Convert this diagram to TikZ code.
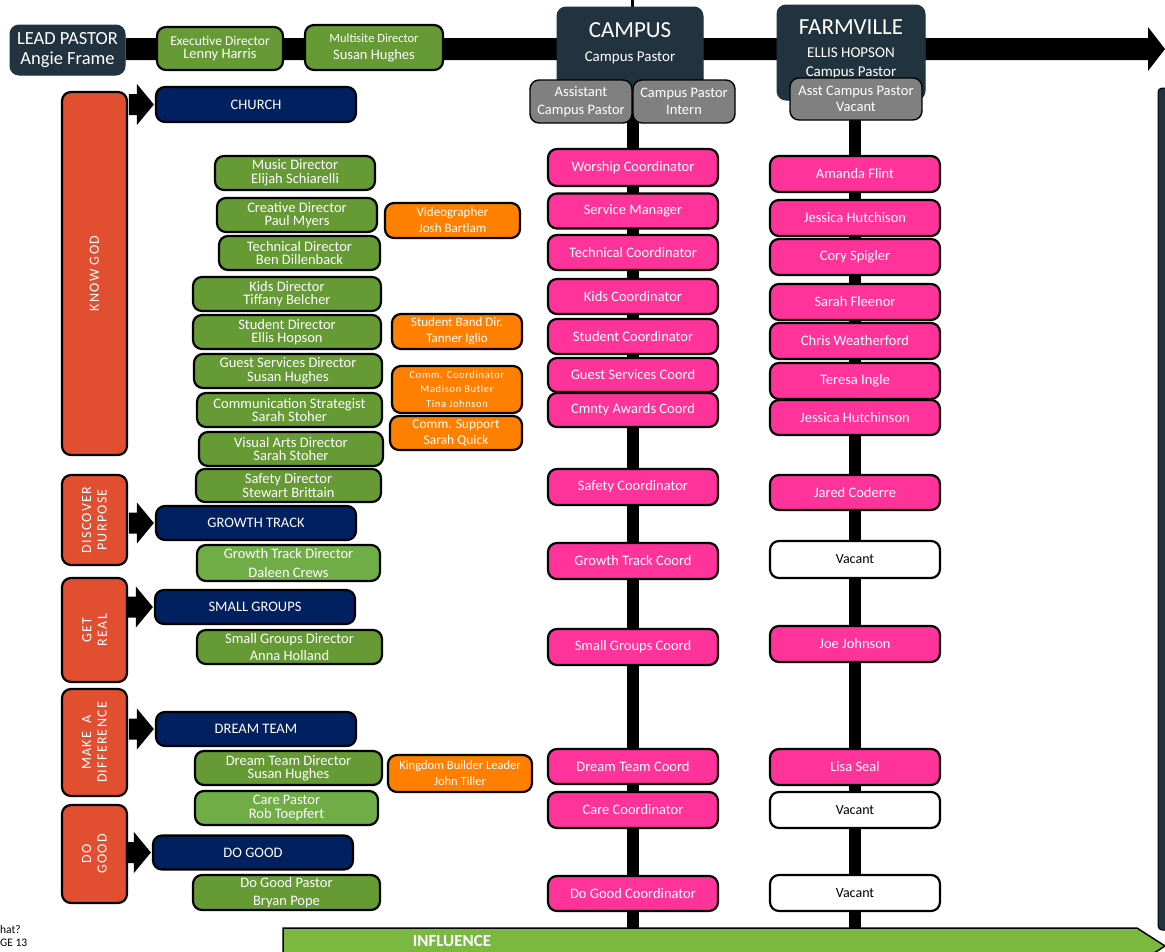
\documentclass[tikz,border=0pt]{standalone}
\usepackage{fontspec}
\setmainfont{Carlito}
\usetikzlibrary{calc,backgrounds}

\definecolor{slate}{RGB}{34,51,64}
\definecolor{navy}{RGB}{0,32,96}
\definecolor{leafdark}{RGB}{101,154,52}
\definecolor{leaflight}{RGB}{112,173,71}
\definecolor{tangerine}{RGB}{255,128,0}
\definecolor{hotpink}{RGB}{255,51,153}
\definecolor{brick}{RGB}{226,79,48}
\definecolor{steel}{RGB}{128,128,128}
\definecolor{lime}{RGB}{122,184,64}

\tikzset{
  box/.style={draw=black, line width=2.2pt, rounded corners=9pt, align=center, inner sep=0pt, text=white},
  leadbox/.style={box, draw=slate, line width=1pt, fill=slate},
  greybox/.style={box, line width=1.4pt, fill=steel, minimum width=102pt, minimum height=43pt, font=\fontsize{14.5}{17.5}\selectfont},
  goalbar/.style={box, fill=brick, rotate=90, minimum height=65pt, font=\fontsize{14}{15.5}\selectfont\addfontfeature{LetterSpace=9}},
  stepbox/.style={box, fill=navy, minimum width=200pt, minimum height=34pt, font=\fontsize{14.5}{16}\selectfont},
  dirbox/.style={box, fill=leafdark, minimum width=185pt, minimum height=34pt, font=\fontsize{14.5}{13.5}\selectfont},
  helpbox/.style={box, fill=tangerine, minimum width=130pt, minimum height=35pt, font=\fontsize{13}{16}\selectfont},
  coordbox/.style={box, fill=hotpink, minimum width=170pt, minimum height=35pt, font=\fontsize{14.5}{16}\selectfont},
  vacantbox/.style={coordbox, fill=white, text=black, font=\fontsize{14}{16}\selectfont},
  spine/.style={line width=12pt},
  pointer/.style={fill=black},
}

\begin{document}
\begin{tikzpicture}[x=1pt,y=-1pt]
	\useasboundingbox (0,0) rectangle (1165,951);

	% Top row
	\node[leadbox, minimum width=115pt, minimum height=50pt, font=\fontsize{18.5}{20}\selectfont] (lead) at (67.5,50) {LEAD PASTOR\\Angie Frame};
	\node[dirbox, minimum width=126pt, minimum height=43pt] (exec) at (220,48.5) {{\fontsize{13.5}{14}\selectfont Executive Director}\\Lenny Harris};
	\node[dirbox, minimum width=138pt, minimum height=45pt, font=\fontsize{14.5}{17}\selectfont] (multi) at (374,47.5) {{\fontsize{12.5}{14}\selectfont Multisite Director}\\Susan Hughes};

	\node[leadbox, minimum width=146pt, minimum height=88pt] (campus) at (630,51) {};
	\node[text=white, font=\fontsize{23}{24}\selectfont] (campusname) at (630,30) {CAMPUS};
	\node[text=white, font=\fontsize{15}{16}\selectfont] (campuspastor) at (630,58) {Campus Pastor};
	\node[greybox] (asst) at (581,101.5) {Assistant\\Campus Pastor};
	\node[greybox] (intern) at (684,101.5) {Campus Pastor\\Intern};

	\node[leadbox, minimum width=148pt, minimum height=95pt] (farm) at (851,52.5) {};
	\node[text=white, font=\fontsize{23}{24}\selectfont] (farmname) at (851,27) {FARMVILLE};
	\node[text=white, align=center, font=\fontsize{15}{19}\selectfont] (farmpastor) at (851,63) {ELLIS HOPSON\\Campus Pastor};
	\node[greybox, minimum width=132pt, minimum height=42pt, font=\fontsize{14.5}{16.5}\selectfont] (asstv) at (856,99) {Asst Campus Pastor\\Vacant};

	\node[leadbox, draw=black, line width=1pt, rotate=90, rounded corners=4pt, minimum width=842pt, minimum height=30pt] (sidebar) at (1173,509) {};
	\coordinate (pagetop) at (632,0);

	% Goal bars
	\node[goalbar, minimum width=363pt] (knowgod) at (94.5,273.5) {KNOW GOD};
	\node[goalbar, minimum width=90pt] (discover) at (94.5,520) {DISCOVER\\PURPOSE};
	\node[goalbar, minimum width=104pt] (getreal) at (94.5,630) {GET\\REAL};
	\node[goalbar, minimum width=107pt] (makediff) at (94.5,742.5) {MAKE\ \ A\\DIFFERENCE};
	\node[goalbar, minimum width=98pt] (goodbar) at (94.5,854) {DO\\GOOD};

	% Steps
	\node[stepbox, minimum height=35pt] (church) at (256,104.5) {CHURCH};
	\node[stepbox] (growth) at (256,523) {GROWTH TRACK};
	\node[stepbox] (groups) at (255,607) {SMALL GROUPS};
	\node[stepbox] (dream) at (256,729) {DREAM TEAM};
	\node[stepbox] (dogood) at (253,852.5) {DO GOOD};

	% Directors
	\node[dirbox, minimum width=160pt] (music) at (295,173) {Music Director\\Elijah Schiarelli};
	\node[dirbox, minimum width=160pt] (creative) at (297,215) {Creative Director\\Paul Myers};
	\node[dirbox, minimum width=161pt] (technical) at (299.5,253) {Technical Director\\Ben Dillenback};
	\node[dirbox, minimum width=188pt] (kids) at (287,294) {Kids Director\\Tiffany Belcher};
	\node[dirbox, minimum width=188pt] (student) at (287,332) {Student Director\\Ellis Hopson};
	\node[dirbox, minimum width=188pt] (guest) at (288,371) {Guest Services Director\\Susan Hughes};
	\node[dirbox] (commstrat) at (289.5,410) {Communication Strategist\\Sarah Stoher};
	\node[dirbox, minimum width=184pt] (visual) at (291,449) {Visual Arts Director\\Sarah Stoher};
	\node[dirbox, minimum height=33pt] (safety) at (288.5,485.5) {Safety Director\\Stewart Brittain};
	\node[dirbox, fill=leaflight, minimum width=183pt, minimum height=36pt] (growthdir) at (288.5,563) {Growth Track Director\\[5pt]Daleen Crews};
	\node[dirbox] (groupsdir) at (289.5,647) {Small Groups Director\\[4pt]Anna Holland};
	\node[dirbox, minimum width=187pt] (dreamdir) at (288.5,768) {Dream Team Director\\Susan Hughes};
	\node[dirbox, fill=leaflight, minimum width=183pt] (care) at (286.5,808) {Care Pastor\\Rob Toepfert};
	\node[dirbox, minimum width=187pt, minimum height=35pt] (goodpastor) at (286.5,892.5) {Do Good Pastor\\[4pt]Bryan Pope};

	% Helpers
	\node[helpbox, minimum width=135pt] (video) at (452.5,220.5) {Videographer\\Josh Bartlam};
	\node[helpbox] (band) at (457,331.5) {Student Band Dir.\\Tanner Iglio};
	\node[helpbox, minimum height=47pt, font=\fontsize{10.5}{14}\selectfont\addfontfeature{LetterSpace=6}] (commco) at (457,389.5) {Comm. Coordinator\\Madison Butler\\[1pt]Tina Johnson};
	\node[helpbox, minimum width=132pt, minimum height=34pt, font=\fontsize{13.5}{15.5}\selectfont] (commsup) at (456,433) {Comm. Support\\Sarah Quick};
	\node[helpbox, minimum width=144pt, minimum height=37pt, font=\fontsize{12.5}{16}\selectfont] (kingdom) at (460,773.5) {Kingdom Builder Leader\\John Tiller};

	% Campus coordinators
	\node[coordbox, minimum height=37pt] (worship) at (633,167.5) {Worship Coordinator};
	\node[coordbox] (service) at (633,211) {Service Manager};
	\node[coordbox] (techc) at (633,252.5) {Technical Coordinator};
	\node[coordbox] (kidsc) at (633,296.5) {Kids Coordinator};
	\node[coordbox] (studc) at (633,336.5) {Student Coordinator};
	\node[coordbox, minimum height=34pt] (guestc) at (633,375) {Guest Services Coord};
	\node[coordbox, minimum height=34pt] (cmnty) at (633,410) {Cmnty Awards Coord};
	\node[coordbox, minimum height=36pt] (safetyc) at (633,487) {Safety Coordinator};
	\node[coordbox, minimum height=36pt] (growthc) at (633,561) {Growth Track Coord};
	\node[coordbox, minimum height=36pt] (groupsc) at (633,647) {Small Groups Coord};
	\node[coordbox] (dreamc) at (633,766.5) {Dream Team Coord};
	\node[coordbox, minimum height=36pt] (carec) at (633,810) {Care Coordinator};
	\node[coordbox] (goodc) at (633,893.5) {Do Good Coordinator};

	% Farmville team
	\node[coordbox, minimum height=36pt] (flint) at (855,174) {Amanda Flint};
	\node[coordbox, minimum height=36pt] (hutchison) at (855,218) {Jessica Hutchison};
	\node[coordbox, minimum height=36pt] (spigler) at (855,257) {Cory Spigler};
	\node[coordbox, minimum height=36pt] (fleenor) at (855,302) {Sarah Fleenor};
	\node[coordbox, minimum height=36pt] (weatherford) at (855,341) {Chris Weatherford};
	\node[coordbox, minimum height=36pt] (ingle) at (855,381) {Teresa Ingle};
	\node[coordbox] (hutchinson) at (855,417.5) {Jessica Hutchinson};
	\node[coordbox] (coderre) at (855,492.5) {Jared Coderre};
	\node[vacantbox, minimum height=37pt] (vacanta) at (855,559.5) {Vacant};
	\node[coordbox, minimum height=36pt] (johnson) at (855,644) {Joe Johnson};
	\node[coordbox, minimum height=36pt] (seal) at (855,767) {Lisa Seal};
	\node[vacantbox, minimum height=36pt] (vacantb) at (855,810) {Vacant};
	\node[vacantbox, minimum height=36pt] (vacantc) at (855,893) {Vacant};

	% Influence arrow
	\coordinate (influence) at (283,928);
	\filldraw[fill=lime, draw=black, line width=1.5pt] (influence) -- (1137,928) -- (1165,946) -- (1137,964) -- (283,964) -- cycle;
	\node[text=white, font=\fontsize{17}{17}\selectfont\bfseries] (influencetext) at (452,941) {INFLUENCE};
	\node[anchor=west, align=left, inner sep=0pt, font=\fontsize{11.5}{13}\selectfont] (pageref) at (0,936) {hat?\\GE 13};

	% Connect the nodes
	\begin{pgfonlayer}{background}
		\fill (lead.east |- 0,38) -- (1148,38) -- (1148,27) -- (1165,49) -- (1148,71) -- (1148,60) -- (lead.east |- 0,60) -- cycle;
		\draw[line width=3pt] (pagetop) -- (pagetop |- campus.north);
		\draw[spine] (worship |- campus.south) -- (worship |- influence);
		\draw[spine] (flint |- farm.south) -- (flint |- influence);
	\end{pgfonlayer}
	\foreach \n in {church,growth,groups,dream,dogood}
		\fill[pointer] ($(\n.west)+(-26,-10.5)$) -- ++(8,0) -- ++(0,-10) -- ++(17,20.5) -- ++(-17,20.5) -- ++(0,-10) -- ++(-8,0) -- cycle;
\end{tikzpicture}
\end{document}
